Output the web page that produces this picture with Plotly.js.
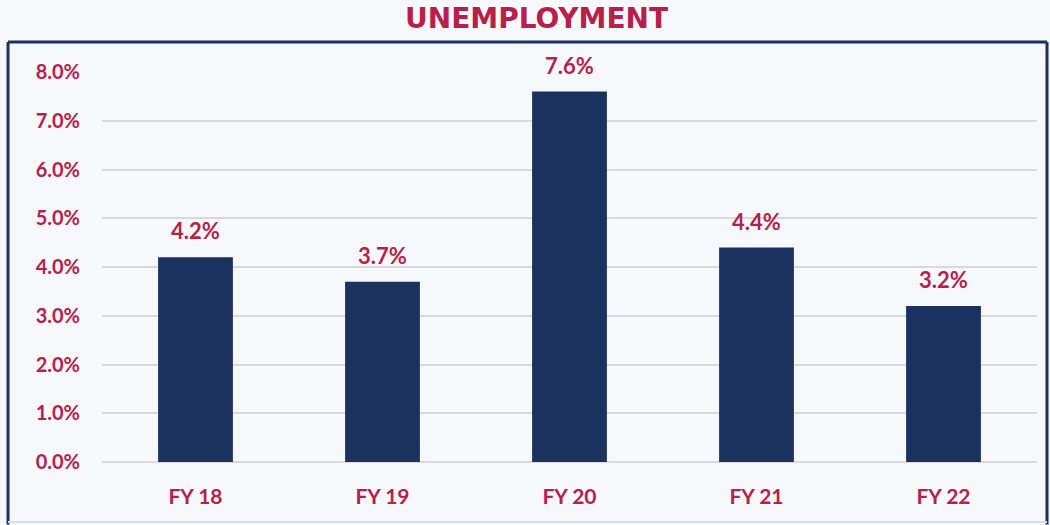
<!DOCTYPE html>
<html>
<head>
<meta charset="utf-8">
<script src="https://cdn.plot.ly/plotly-3.0.1.min.js"></script>
<style>html,body{margin:0;padding:0;background:#F7F8FB;}</style>
</head>
<body>
<div id="chart" style="width:1050px;height:525px;"></div>
<script>
const categories = ["FY 18", "FY 19", "FY 20", "FY 21", "FY 22"];
const unemployment = [4.2, 3.7, 7.6, 4.4, 3.2];
const yTickVals = [0, 1, 2, 3, 4, 5, 6, 7, 8];
const yTickText = ["0.0%", "1.0%", "2.0%", "3.0%", "4.0%", "5.0%", "6.0%", "7.0%", "8.0%"];

const crimson = "#B8204A";
const navy = "#1B325E";
const labelFont = "Lato, 'Open Sans', sans-serif";

const trace = {
  type: "bar",
  x: categories,
  y: unemployment,
  marker: {color: navy},
  hoverinfo: "none"
};

const labels = categories.map((c, i) => ({
  x: c, y: unemployment[i], xref: "x", yref: "y",
  text: unemployment[i].toFixed(1) + "%",
  showarrow: false, yanchor: "bottom", yshift: 11,
  font: {family: labelFont, size: 22, color: crimson, weight: 700}
}));

const layout = {
  width: 1050, height: 525,
  paper_bgcolor: "#F7F8FB",
  plot_bgcolor: "#F7F8FB",
  margin: {l: 102, r: 13, t: 72, b: 63},
  bargap: 0.6,
  showlegend: false,
  title: {
    text: "UNEMPLOYMENT",
    x: 0.511, xref: "container", xanchor: "center",
    y: 0.965, yref: "container", yanchor: "middle",
    font: {family: "'DejaVu Sans', sans-serif", size: 28, color: crimson, weight: 700}
  },
  xaxis: {
    tickfont: {family: labelFont, size: 21, color: crimson, weight: 700},
    showline: false, showgrid: false, ticks: "", ticklabelstandoff: 20
  },
  yaxis: {
    range: [0, 8],
    tickvals: yTickVals, ticktext: yTickText,
    tickfont: {family: labelFont, size: 20, color: crimson, weight: 700},
    showgrid: true, gridcolor: "#D9D9D9", gridwidth: 2,
    zeroline: true, zerolinecolor: "#D9D9D9", zerolinewidth: 2,
    showline: false, ticks: "", ticklabelstandoff: 21
  },
  annotations: labels,
  shapes: [
    {type: "line", xref: "paper", yref: "paper", x0: -0.1005, x1: 1.0107, y0: 1.0769, y1: 1.0769, line: {color: navy, width: 3}},
    {type: "line", xref: "paper", yref: "paper", x0: -0.1005, x1: -0.1005, y0: 1.0769, y1: -0.16, line: {color: navy, width: 3}},
    {type: "line", xref: "paper", yref: "paper", x0: 1.0107, x1: 1.0107, y0: 1.0769, y1: -0.16, line: {color: navy, width: 3}},
    {type: "line", xref: "paper", yref: "paper", x0: -0.1005, x1: 1.0107, y0: -0.1538, y1: -0.1538, line: {color: "#CFE0F0", width: 2}}
  ]
};

Plotly.newPlot("chart", [trace], layout, {staticPlot: true, displayModeBar: false});
</script>
</body>
</html>
